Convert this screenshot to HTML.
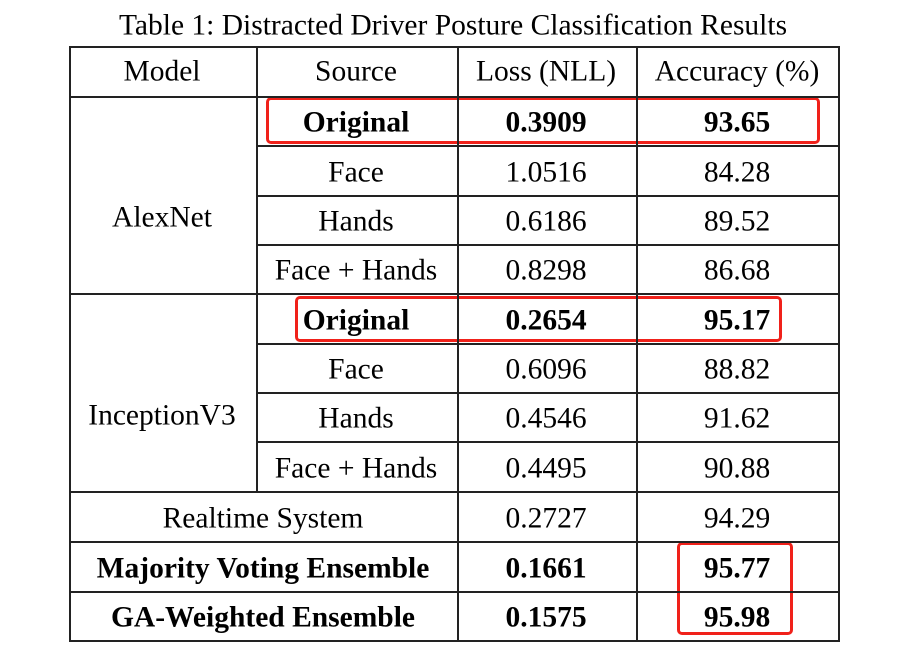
<!DOCTYPE html>
<html><head><meta charset="utf-8"><style>
body{margin:0;width:905px;height:659px;background:#fff;position:relative;font-family:"Liberation Serif",serif;color:#000;overflow:hidden}
.t{position:absolute;font-size:29.5px;white-space:nowrap;transform:translate(-50%,-50%)}
.b{font-weight:bold}
.h{position:absolute;height:1.5px;background:#222}
.v{position:absolute;width:1.5px;background:#222}
.r{position:absolute;border:3px solid #f0211a;border-radius:5px;box-sizing:border-box}
</style></head><body>
<div class="t" style="left:453px;top:26px">Table 1: Distracted Driver Posture Classification Results</div>
<div id="tbl"></div>
<div class="r" style="left:266px;top:97px;width:554px;height:47px"></div>
<div class="r" style="left:295px;top:296px;width:487px;height:46px"></div>
<div class="r" style="left:677px;top:542px;width:116px;height:93px"></div>
<script>
const hs=[46,96,145,195,244,293,343,392,441,491,541,591,640];
const root=document.body;
function line(cls,x,y,len,name){const d=document.createElement('div');d.className=cls;


if(cls==='h'){d.style.left=x+'px';d.style.top=y+'px';d.style.width=len+'px';}else{d.style.left=x+'px';d.style.top=y+'px';d.style.height=len+'px';}
root.appendChild(d);}
[[69,46],[69,96],[256,145],[256,195],[256,244],[69,293],[256,343],[256,392],[256,441],[69,491],[69,541],[69,591],[69,640]].forEach(a=>line('h',a[0],a[1],839.5-a[0],'row-border'));
line('v',69,46,595,'table-left-border');
line('v',838,46,595,'table-right-border');
line('v',256,46,445,'col-border-model');
line('v',457,46,595,'col-border-loss');
line('v',636,46,595,'col-border-acc');
function txt(s,x,y,bold,name){const d=document.createElement('div');d.className='t'+(bold?' b':'');d.textContent=s;d.style.left=x+'px';d.style.top=y+'px';


root.appendChild(d);}
txt('Model',162,72,false,'header-model');txt('Source',356,72,false,'header-source');txt('Loss (NLL)',546,72,false,'header-loss');txt('Accuracy (%)',737,72,false,'header-accuracy');
const rows=[['Original','0.3909','93.65',1],['Face','1.0516','84.28',0],['Hands','0.6186','89.52',0],['Face + Hands','0.8298','86.68',0],
['Original','0.2654','95.17',1],['Face','0.6096','88.82',0],['Hands','0.4546','91.62',0],['Face + Hands','0.4495','90.88',0]];
rows.forEach((r,i)=>{const y=(hs[i+1]+hs[i+2])/2+2.5;txt(r[0],356,y,r[3],'source-cell');txt(r[1],546,y,r[3],'loss-cell');txt(r[2],737,y,r[3],'accuracy-cell');});
txt('AlexNet',162,218,false,'model-alexnet');txt('InceptionV3',162,416,false,'model-inceptionv3');
const ex=[['Realtime System','0.2727','94.29',0],['Majority Voting Ensemble','0.1661','95.77',1],['GA-Weighted Ensemble','0.1575','95.98',1]];
ex.forEach((r,i)=>{const y=(hs[i+9]+hs[i+10])/2+2.5;txt(r[0],263,y,r[3],'model-cell');txt(r[1],546,y,r[3],'loss-cell');txt(r[2],737,y,r[3],'accuracy-cell');});
</script>
</body></html>
